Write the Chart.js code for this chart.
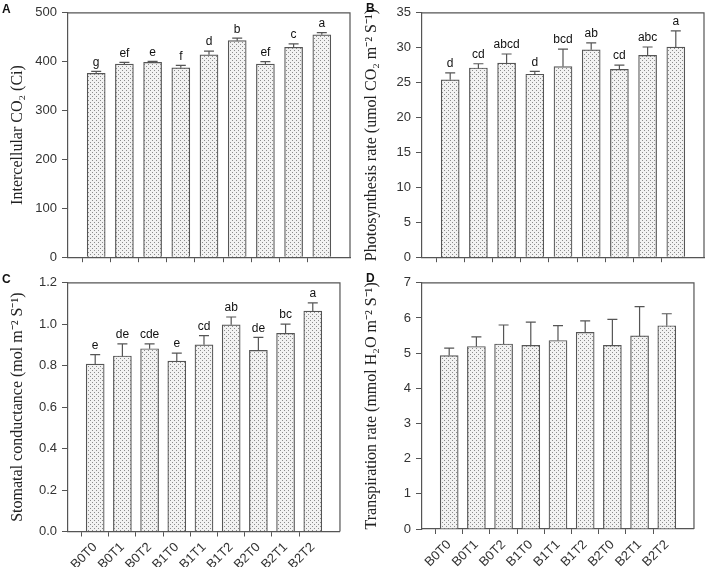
<!DOCTYPE html>
<html>
<head>
<meta charset="utf-8">
<script src="https://cdn.jsdelivr.net/npm/chart.js@4.4.0/dist/chart.umd.min.js"></script>
<style>
body { margin: 0; background: #fff; width: 708px; height: 567px; position: relative; overflow: hidden; }
.panel { position: absolute; }
.tag { position: absolute; font: bold 12px "Liberation Sans", Arial, sans-serif; color: #111; }
</style>
</head>
<body>
<div class="panel" style="left:0;top:0"><canvas id="chartA" width="354" height="270"></canvas></div>
<div class="panel" style="left:354px;top:0"><canvas id="chartB" width="354" height="270"></canvas></div>
<div class="panel" style="left:0;top:270px"><canvas id="chartC" width="354" height="297"></canvas></div>
<div class="panel" style="left:354px;top:270px"><canvas id="chartD" width="354" height="297"></canvas></div>
<div class="tag" style="left:2px;top:2px">A</div>
<div class="tag" style="left:366px;top:1px">B</div>
<div class="tag" style="left:2px;top:272px">C</div>
<div class="tag" style="left:366px;top:271px">D</div>
<script>
// Tratamentos
const treatments = ['B0T0', 'B0T1', 'B0T2', 'B1T0', 'B1T1', 'B1T2', 'B2T0', 'B2T1', 'B2T2']

// A - Intercellular CO2
const ciMean = [376, 395, 398.5, 387.5, 414, 443, 395, 429.5, 455]
const ciErr = [4, 3.5, 2, 5, 7.5, 5, 5, 7, 4.5]
const ciLetters = ['g', 'ef', 'e', 'f', 'd', 'b', 'ef', 'c', 'a']

// B - Photosynthesis rate
const pnMean = [25.4, 27.1, 27.8, 26.2, 27.3, 29.7, 26.9, 28.9, 30.1]
const pnErr = [1.0, 0.6, 1.3, 0.4, 2.5, 1.0, 0.6, 1.2, 2.3]
const pnLetters = ['d', 'cd', 'abcd', 'd', 'bcd', 'ab', 'cd', 'abc', 'a']

// C - Stomatal conductance
const gsMean = [0.808, 0.847, 0.882, 0.822, 0.901, 0.997, 0.874, 0.956, 1.063]
const gsErr = [0.045, 0.058, 0.023, 0.039, 0.044, 0.038, 0.063, 0.045, 0.040]
const gsLetters = ['e', 'de', 'cde', 'e', 'cd', 'ab', 'de', 'bc', 'a']

// D - Transpiration rate
const trMean = [4.93, 5.19, 5.26, 5.22, 5.36, 5.59, 5.22, 5.49, 5.78]
const trErr = [0.21, 0.27, 0.54, 0.66, 0.42, 0.33, 0.74, 0.83, 0.34]
const trLetters = []

const lineColor = '#555'
const textColor = '#333'
const sansFont = '"Liberation Sans", Arial, sans-serif'
const serifFont = '"Liberation Serif", "Times New Roman", serif'

// padrao pontilhado das barras
function dotPattern() {
    const c = document.createElement('canvas')
    c.width = 4
    c.height = 4
    const g = c.getContext('2d')
    g.fillStyle = '#f2f2f2'
    g.fillRect(0, 0, 4, 4)
    g.fillStyle = '#8c8c8c'
    g.fillRect(0, 0, 1, 1)
    g.fillRect(2, 2, 1, 1)
    return g.createPattern(c, 'repeat')
}

// barras de erro, letras e moldura
const errBarsPlugin = {
    id: 'errbars',
    afterDatasetsDraw(chart, args, opts) {
        const ctx = chart.ctx
        const meta = chart.getDatasetMeta(0)
        const y = chart.scales.y
        ctx.save()
        ctx.strokeStyle = lineColor
        ctx.lineWidth = 1.2
        opts.mean.forEach((m, i) => {
            const bar = meta.data[i + 1]
            const top = y.getPixelForValue(m + opts.err[i])
            ctx.beginPath()
            ctx.moveTo(bar.x, bar.y)
            ctx.lineTo(bar.x, top)
            ctx.moveTo(bar.x - 5, top)
            ctx.lineTo(bar.x + 5, top)
            ctx.stroke()
            if (opts.letters[i]) {
                ctx.fillStyle = '#111'
                ctx.font = '12px ' + sansFont
                ctx.textAlign = 'center'
                ctx.textBaseline = 'bottom'
                ctx.fillText(opts.letters[i], bar.x, top - 3)
            }
        })
        const a = chart.chartArea
        ctx.beginPath()
        ctx.moveTo(a.left, a.top)
        ctx.lineTo(a.right, a.top)
        ctx.lineTo(a.right, a.bottom)
        ctx.stroke()
        ctx.restore()
    }
}

function makeChart(id, mean, err, letters, yCfg, title, pad, xHeight, showLabels) {
    const labels = [''].concat(treatments, [''])
    const data = [null].concat(mean, [null])
    return new Chart(document.getElementById(id), {
        type: 'bar',
        data: {
            labels: labels,
            datasets: [{
                data: data,
                backgroundColor: dotPattern(),
                borderColor: lineColor,
                borderWidth: 1.2,
                barThickness: 18
            }]
        },
        options: {
            responsive: false,
            animation: false,
            layout: { padding: { top: pad, right: 4, left: 0, bottom: 0 } },
            plugins: {
                legend: { display: false },
                tooltip: { enabled: false },
                errbars: { mean: mean, err: err, letters: letters }
            },
            scales: {
                x: {
                    offset: false,
                    grid: {
                        drawOnChartArea: false,
                        tickLength: 5,
                        tickColor: c => (c.index === 0 || c.index === labels.length - 1) ? 'rgba(0,0,0,0)' : lineColor
                    },
                    border: { color: lineColor, width: 1.2 },
                    ticks: {
                        display: showLabels,
                        autoSkip: false,
                        minRotation: 45,
                        maxRotation: 45,
                        padding: 3,
                        color: textColor,
                        font: { family: sansFont, size: 13 }
                    },
                    afterFit: s => { s.height = xHeight }
                },
                y: {
                    min: yCfg.min,
                    max: yCfg.max,
                    grid: { drawOnChartArea: false, tickLength: 6, tickColor: lineColor },
                    border: { color: lineColor, width: 1.2 },
                    ticks: {
                        stepSize: yCfg.step,
                        padding: 5,
                        color: textColor,
                        font: { family: sansFont, size: 13 },
                        callback: v => v.toFixed(yCfg.dec)
                    },
                    title: {
                        display: true,
                        text: title,
                        color: '#222',
                        padding: { top: 8, bottom: 0 },
                        font: { family: serifFont, size: 16 }
                    },
                    afterFit: s => { s.width = 68 }
                }
            }
        },
        plugins: [errBarsPlugin]
    })
}

makeChart('chartA', ciMean, ciErr, ciLetters, { min: 0, max: 500, step: 100, dec: 0 },
    'Intercellular CO\u2082 (Ci)', 7, 8, false)
makeChart('chartB', pnMean, pnErr, pnLetters, { min: 0, max: 35, step: 5, dec: 0 },
    'Photosynthesis rate (umol CO\u2082 m\u207B\u00B2 S\u207B\u00B9)', 10, 8, false)
makeChart('chartC', gsMean, gsErr, gsLetters, { min: 0, max: 1.2, step: 0.2, dec: 1 },
    'Stomatal conductance (mol m\u207B\u00B2 S\u207B\u00B9)', 7, 35.5, true)
makeChart('chartD', trMean, trErr, trLetters, { min: 0, max: 7, step: 1, dec: 0 },
    'Transpiration rate (mmol H\u2082O m\u207B\u00B2 S\u207B\u00B9)', 4.5, 38, true)
</script>
</body>
</html>
